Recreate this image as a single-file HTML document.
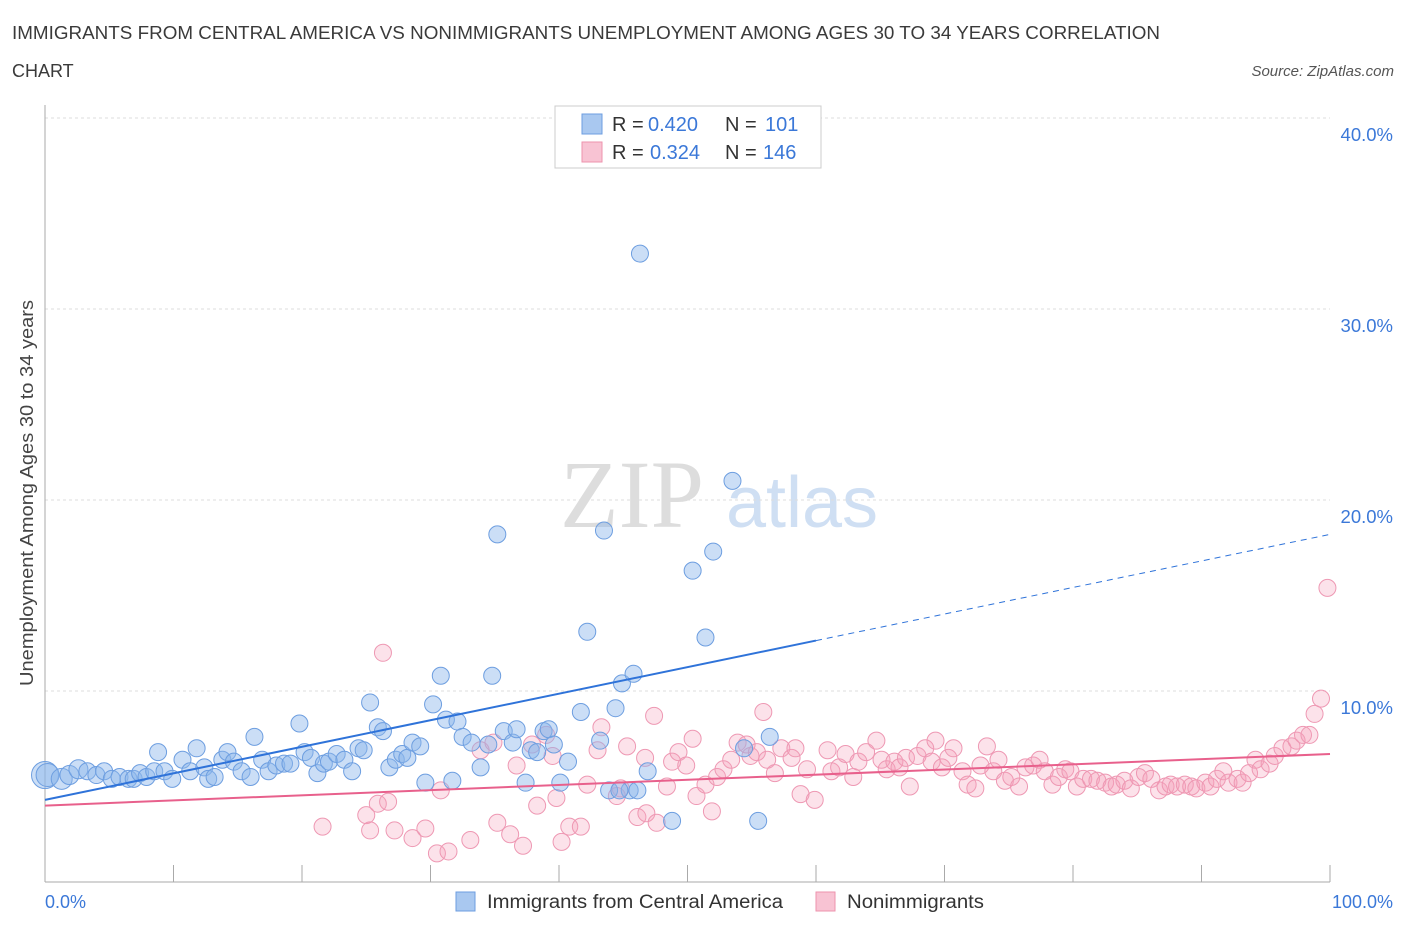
<!DOCTYPE html>
<html><head><meta charset="utf-8"><style>
body{margin:0;background:#fff;font-family:"Liberation Sans",sans-serif;}
</style></head><body>
<svg width="1406" height="930" xmlns="http://www.w3.org/2000/svg" id="chart">
<text x="12" y="39" font-size="18" fill="#3a3a3a" textLength="1148" lengthAdjust="spacingAndGlyphs">IMMIGRANTS FROM CENTRAL AMERICA VS NONIMMIGRANTS UNEMPLOYMENT AMONG AGES 30 TO 34 YEARS CORRELATION</text>
<text x="12" y="77" font-size="18" fill="#3a3a3a">CHART</text>
<text x="1394" y="76" font-size="15" fill="#555" font-style="italic" text-anchor="end">Source: ZipAtlas.com</text>
<g>
<text x="632" y="527" font-size="96" fill="#ddd" font-family="Liberation Serif,serif" text-anchor="middle">ZIP</text>
<text x="802" y="527" font-size="72" fill="#cfdff3" text-anchor="middle">atlas</text>
</g>
<g id="grid"></g>
<g id="axes"></g>
<g id="marks"></g>
<text transform="translate(33,493) rotate(-90)" font-size="18" fill="#444" text-anchor="middle" textLength="386" lengthAdjust="spacingAndGlyphs">Unemployment Among Ages 30 to 34 years</text>
<text x="45" y="908" font-size="18" fill="#3b78d8">0.0%</text>
<text x="1393" y="908" font-size="18" fill="#3b78d8" text-anchor="end">100.0%</text>
<g>
<rect x="555" y="106" width="266" height="62" fill="#fff" stroke="#ccc"/>
<rect x="582" y="114" width="20" height="20" fill="#a9c8f0" stroke="#6d9ee0"/>
<rect x="582" y="142" width="20" height="20" fill="#f8c3d3" stroke="#ee93ae"/>
<text x="612" y="131" font-size="20" fill="#333">R =</text>
<text x="648" y="131" font-size="20" fill="#3b78d8">0.420</text>
<text x="725" y="131" font-size="20" fill="#333">N =</text>
<text x="765" y="131" font-size="20" fill="#3b78d8">101</text>
<text x="612" y="159" font-size="20" fill="#333">R =</text>
<text x="650" y="159" font-size="20" fill="#3b78d8">0.324</text>
<text x="725" y="159" font-size="20" fill="#333">N =</text>
<text x="763" y="159" font-size="20" fill="#3b78d8">146</text>
</g>
<g>
<rect x="456" y="892" width="19" height="19" fill="#a9c8f0" stroke="#6d9ee0"/>
<text x="487" y="908" font-size="19" fill="#333" textLength="296" lengthAdjust="spacingAndGlyphs">Immigrants from Central America</text>
<rect x="816" y="892" width="19" height="19" fill="#f8c3d3" stroke="#ee93ae"/>
<text x="847" y="908" font-size="19" fill="#333" textLength="137" lengthAdjust="spacingAndGlyphs">Nonimmigrants</text>
</g>
</svg>
<script>
const yTicks=[10,20,30,40];
const yTickLabels=["10.0%","20.0%","30.0%","40.0%"];
const xTicks=[0,10,20,30,40,50,60,70,80,90,100];
const blueX=[0,0.2,1.3,1.9,2.6,3.3,4.0,4.6,5.2,5.8,6.5,6.9,7.4,7.9,8.5,8.8,9.3,9.9,10.7,11.3,11.8,12.4,12.7,13.2,13.8,14.2,14.7,15.3,16.0,16.3,16.9,17.4,18.0,18.6,19.1,19.8,20.2,20.7,21.2,21.7,22.1,22.7,23.3,23.9,24.4,24.8,25.3,25.9,26.3,26.8,27.3,27.8,28.2,28.6,29.2,29.6,30.2,30.8,31.2,31.7,32.1,32.5,33.2,33.9,34.5,34.8,35.2,35.7,36.4,36.7,37.4,37.8,38.3,38.8,39.2,39.6,40.1,40.7,41.7,42.2,43.2,43.5,43.9,44.4,44.9,45.5,45.8,46.3,46.9,48.8,50.4,51.4,52.0,53.5,54.4,55.5,56.4,46.1,44.7];
const blueY=[5.6,5.6,5.4,5.6,5.9,5.8,5.6,5.8,5.4,5.5,5.4,5.4,5.7,5.5,5.8,6.8,5.8,5.4,6.4,5.8,7.0,6.0,5.4,5.5,6.4,6.8,6.3,5.8,5.5,7.6,6.4,5.8,6.1,6.2,6.2,8.3,6.8,6.5,5.7,6.2,6.3,6.7,6.4,5.8,7.0,6.9,9.4,8.1,7.9,6.0,6.4,6.7,6.5,7.3,7.1,5.2,9.3,10.8,8.5,5.3,8.4,7.6,7.3,6.0,7.2,10.8,18.2,7.9,7.3,8.0,5.2,6.9,6.8,7.9,8.0,7.2,5.2,6.3,8.9,13.1,7.4,18.4,4.8,9.1,10.4,4.8,10.9,32.9,5.8,3.2,16.3,12.8,17.3,21.0,7.0,3.2,7.6,4.8,4.8];
const blueSize=[14,12,11,10,10];
const pinkX=[21.6,26.3,25.0,25.9,26.7,25.3,27.2,28.6,29.6,30.5,31.4,33.1,30.8,33.9,34.9,35.2,36.2,37.2,36.7,37.9,39.0,38.3,39.5,39.8,40.2,40.8,41.7,42.2,43.3,43.0,44.5,44.8,45.3,46.1,46.8,47.6,47.4,46.7,48.4,48.8,49.3,49.9,50.4,50.7,51.4,51.9,52.3,52.8,53.4,53.9,54.6,54.9,55.4,55.9,56.2,56.8,57.3,58.1,58.4,58.8,59.3,59.9,60.9,61.2,61.8,62.3,62.9,63.3,63.9,64.7,65.1,65.5,66.1,66.5,67.0,67.3,67.9,68.5,69.0,69.3,69.8,70.3,70.7,71.4,71.8,72.4,72.8,73.3,73.8,74.2,74.7,75.2,75.8,76.3,76.9,77.4,77.8,78.4,78.9,79.4,79.8,80.3,80.8,81.4,81.9,82.5,83.0,83.4,84.0,84.5,85.1,85.6,86.1,86.7,87.2,87.6,88.1,88.7,89.2,89.6,90.3,90.7,91.2,91.7,92.1,92.8,93.2,93.7,94.2,94.6,95.3,95.7,96.3,97.0,97.4,97.9,98.4,98.8,99.3,99.8];
const pinkY=[2.9,12.0,3.5,4.1,4.2,2.7,2.7,2.3,2.8,1.5,1.6,2.2,4.8,6.9,7.3,3.1,2.5,1.9,6.1,7.2,7.7,4.0,6.6,4.4,2.1,2.9,2.9,5.1,8.1,6.9,4.5,4.9,7.1,3.4,3.6,3.1,8.7,6.5,5.0,6.3,6.8,6.1,7.5,4.5,5.1,3.7,5.5,5.9,6.4,7.3,7.2,6.6,6.8,8.9,6.4,5.7,7.0,6.5,7.0,4.6,5.9,4.3,6.9,5.8,6.0,6.7,5.5,6.3,6.8,7.4,6.4,5.9,6.3,6.0,6.5,5.0,6.6,7.0,6.3,7.4,6.0,6.5,7.0,5.8,5.1,4.9,6.1,7.1,5.8,6.4,5.3,5.5,5.0,6.0,6.1,6.4,5.8,5.1,5.5,5.9,5.8,5.0,5.4,5.4,5.3,5.2,5.0,5.1,5.3,4.9,5.5,5.7,5.4,4.8,5.0,5.1,5.0,5.1,5.0,4.9,5.2,5.0,5.4,5.8,5.2,5.4,5.2,5.7,6.4,5.9,6.2,6.6,7.0,7.1,7.4,7.7,7.7,8.8,9.6,15.4];
const blueTrend=[4.3,18.2];
const pinkTrend=[4.0,6.7];
const X=v=>45+v*12.85, Y=v=>882-v*19.1;
const NS="http://www.w3.org/2000/svg";
function mk(tag,attrs,parent){const e=document.createElementNS(NS,tag);for(const k in attrs)e.setAttribute(k,attrs[k]);document.getElementById(parent).appendChild(e);return e;}
yTicks.forEach((t,i)=>{
 const g=mk('line',{x1:45,x2:1330,y1:Y(t),y2:Y(t),stroke:'#ddd','stroke-dasharray':'3,3'},'grid');
 
 
 const l=mk('text',{x:1393,y:Y(t)+23,'font-size':18.5,fill:'#3b78d8','text-anchor':'end'},'grid');
 l.textContent=yTickLabels[i];
 
 
});
const ya=mk('line',{x1:45,x2:45,y1:105,y2:882,stroke:'#aaa'},'axes');


const xa=mk('line',{x1:45,x2:1330,y1:882,y2:882,stroke:'#aaa'},'axes');


xTicks.forEach(t=>{
 const k=mk('line',{x1:X(t),x2:X(t),y1:865,y2:882,stroke:'#aaa'},'axes');
 
 
});
pinkX.forEach((x,i)=>{
 const c=mk('circle',{cx:X(x),cy:Y(pinkY[i]),r:8.5,fill:'rgba(244,160,186,0.3)',stroke:'#ee98b3','stroke-width':1},'marks');
 
 
});
blueX.forEach((x,i)=>{
 const c=mk('circle',{cx:X(x),cy:Y(blueY[i]),r:(blueSize[i]||9)-0.5,fill:'rgba(140,182,236,0.45)',stroke:'#6d9ee0','stroke-width':1},'marks');
 
 
});
const bAt=v=>blueTrend[0]+(blueTrend[1]-blueTrend[0])*v/100;
const bt=mk('line',{x1:X(0),y1:Y(bAt(0)),x2:X(60),y2:Y(bAt(60)),stroke:'#2f73d9','stroke-width':2},'marks');


const bd=mk('line',{x1:X(60),y1:Y(bAt(60)),x2:X(100),y2:Y(bAt(100)),stroke:'#2f73d9','stroke-width':1,'stroke-dasharray':'6,5'},'marks');


const pt=mk('line',{x1:X(0),y1:Y(pinkTrend[0]),x2:X(100),y2:Y(pinkTrend[1]),stroke:'#e8608c','stroke-width':2},'marks');


</script>
</body></html>
